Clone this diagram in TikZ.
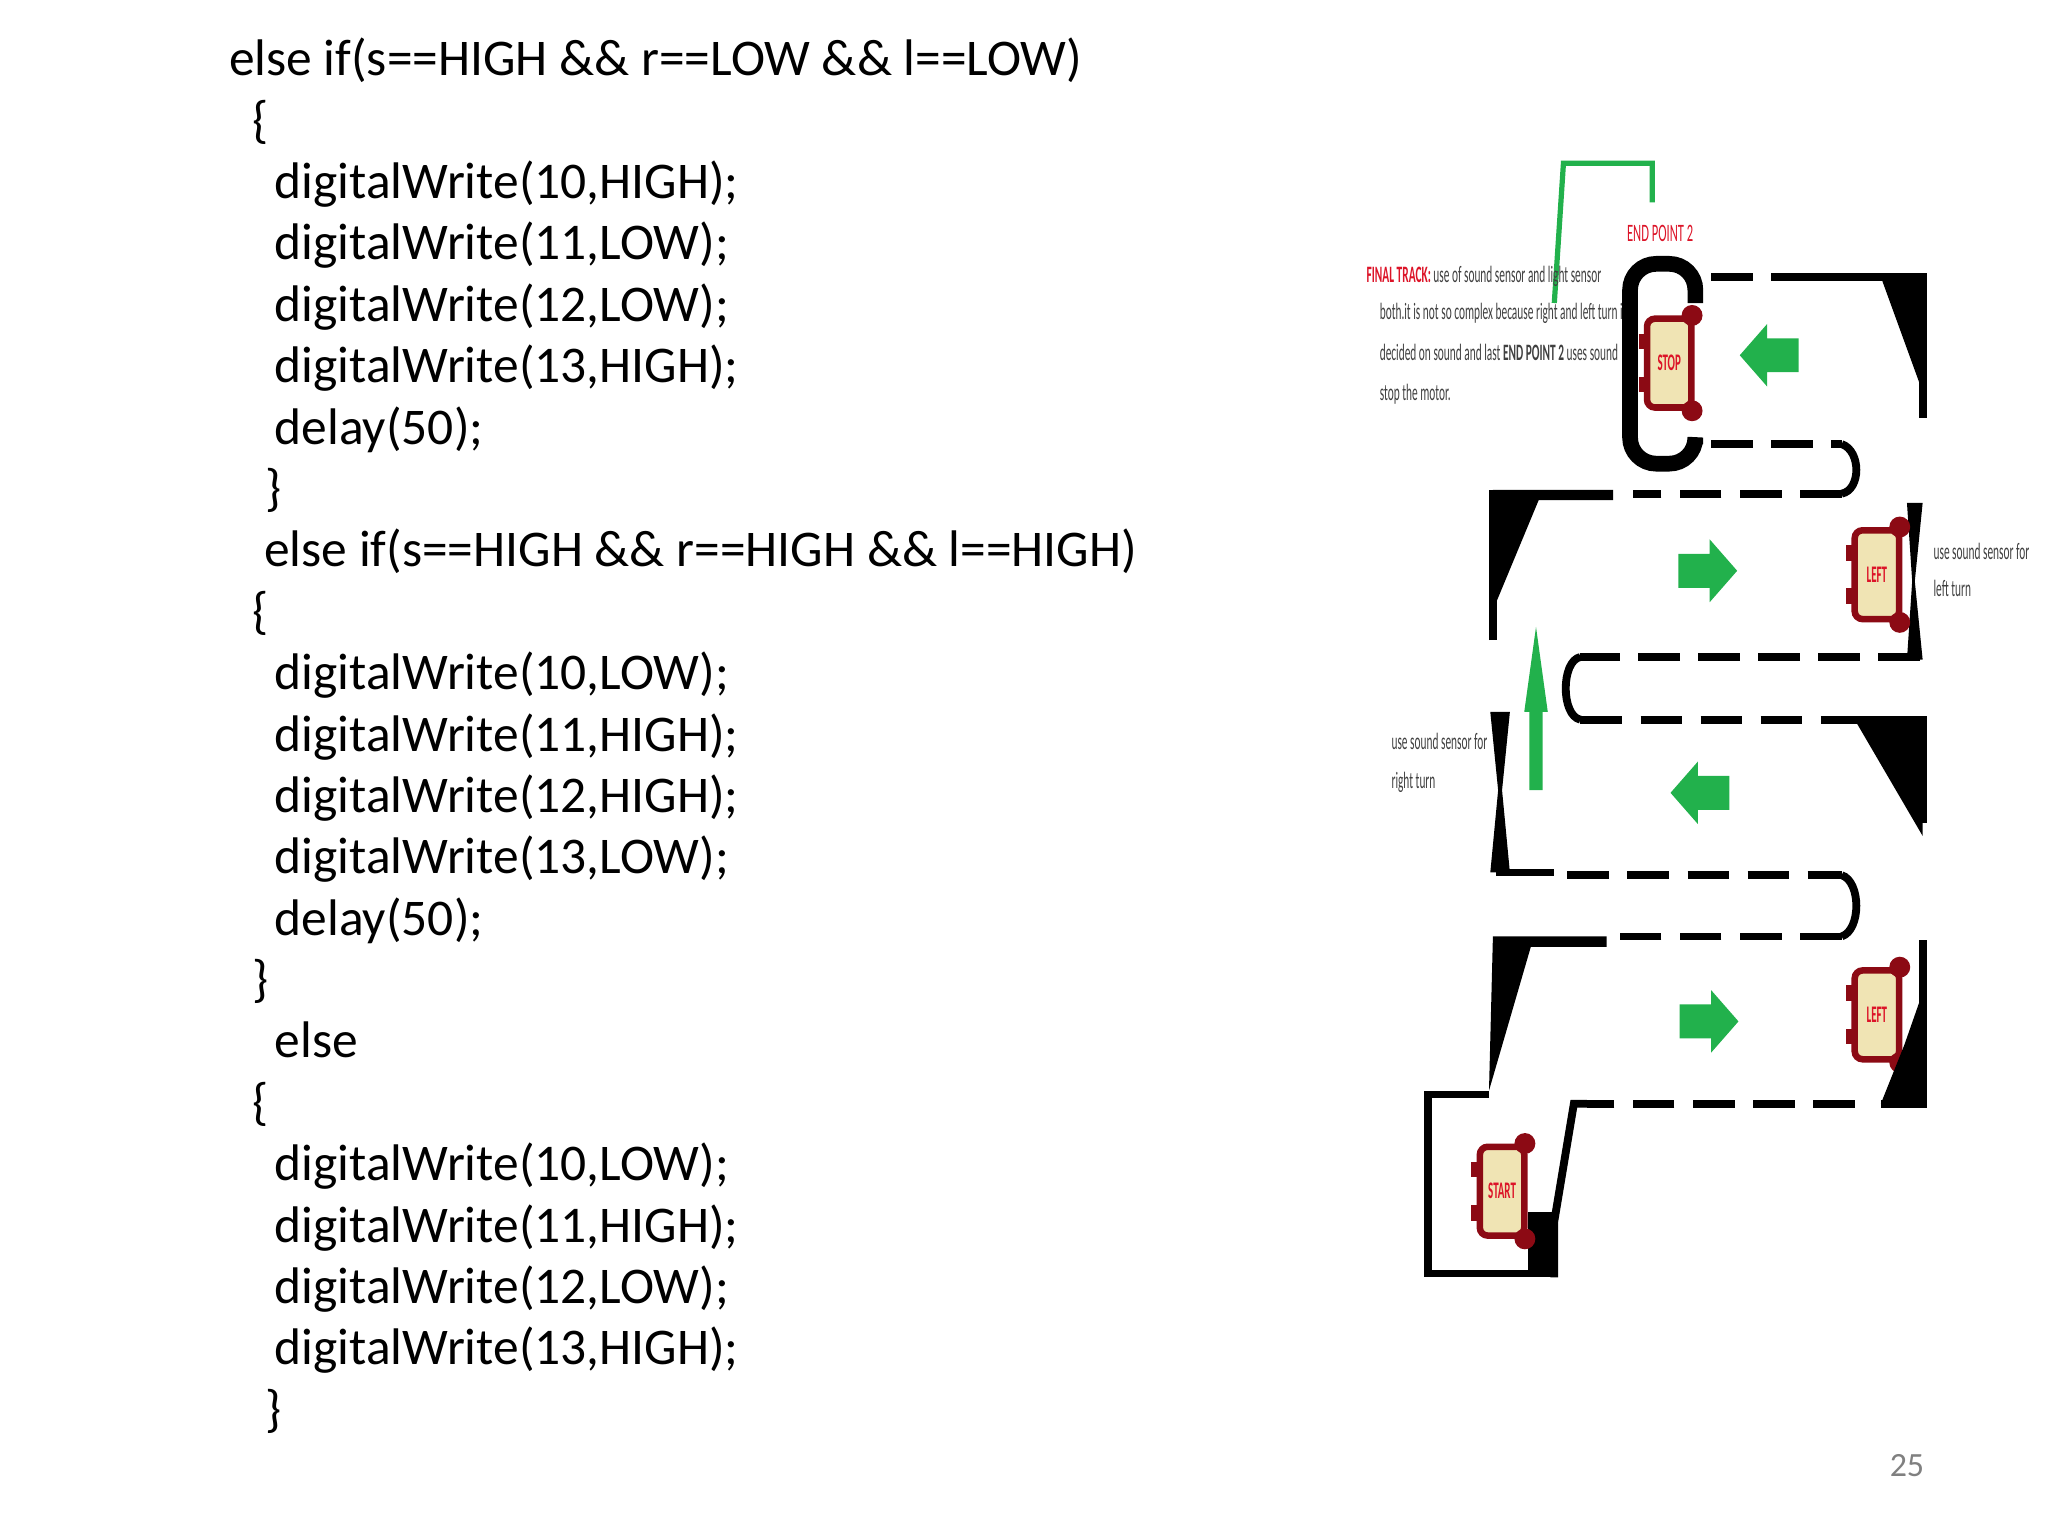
\documentclass[tikz,border=0pt]{standalone}
\usepackage{fontspec}
\setmainfont{Carlito}
\usetikzlibrary{calc}
\definecolor{carred}{RGB}{140,10,20}
\definecolor{cream}{RGB}{240,228,180}
\definecolor{grn}{RGB}{34,177,76}
\definecolor{redtxt}{RGB}{220,20,40}
\tikzset{
 code/.style={anchor=base west,inner sep=0pt,font=\fontsize{19.7}{22}\selectfont},
 tiny/.style={anchor=base west,inner sep=0pt,font=\fontsize{7.5}{8}\selectfont,text=black!75},
 trk/.style={line width=3pt,dash pattern=on 16pt off 7pt},
 wall/.style={line width=3pt},
 blk/.style={fill=black},
 carbody/.style={draw=carred,line width=2.5pt,fill=cream,rounded corners=3pt,minimum width=17pt,minimum height=34pt,inner sep=0pt,text=redtxt,font=\fontsize{7}{7}\selectfont\bfseries},
}
\newcommand\robocar[3]{%
 \node[carbody] (#1) at (#2) {\scalebox{0.6}[1.3]{#3}};
 \fill[carred] ($(#1.north east)+(-1pt,0)$) circle[radius=4pt];
 \fill[carred] ($(#1.south east)+(-1pt,0)$) circle[radius=4pt];
 \fill[carred] ($(#1.north west)+(-2pt,-7pt)$) rectangle ++(4pt,-6pt);
 \fill[carred] ($(#1.south west)+(-2pt,7pt)$) rectangle ++(4pt,6pt);
}
% block arrow: #1 position, #2 xscale (1 right, -1 left)
\newcommand\garr[2]{%
 \fill[grn,shift={(#1)},xscale=#2] (-22,-13) -- (2,-13) -- (2,-24) -- (23,0) -- (2,24) -- (2,13) -- (-22,13) -- cycle;
}
\begin{document}
\begin{tikzpicture}[x=0.5pt,y=-0.5pt]
\useasboundingbox (0,0) rectangle (1568,1176);
% code
\node[code] (l1) at (175,58) {else if(s==HIGH \&\& r==LOW \&\& l==LOW)};
\node[code] (l2) at (193,105) {\{};
\node[code] (l3) at (210,152) {digitalWrite(10,HIGH);};
\node[code] (l4) at (210,199) {digitalWrite(11,LOW);};
\node[code] (l5) at (210,246) {digitalWrite(12,LOW);};
\node[code] (l6) at (210,293) {digitalWrite(13,HIGH);};
\node[code] (l7) at (210,340) {delay(50);};
\node[code] (l8) at (203,387) {\}};
\node[code] (l9) at (202,434) {else if(s==HIGH \&\& r==HIGH \&\& l==HIGH)};
\node[code] (l10) at (193,481) {\{};
\node[code] (l11) at (210,528) {digitalWrite(10,LOW);};
\node[code] (l12) at (210,575) {digitalWrite(11,HIGH);};
\node[code] (l13) at (210,622) {digitalWrite(12,HIGH);};
\node[code] (l14) at (210,669) {digitalWrite(13,LOW);};
\node[code] (l15) at (210,716) {delay(50);};
\node[code] (l16) at (193,763) {\}};
\node[code] (l17) at (210,810) {else};
\node[code] (l18) at (193,857) {\{};
\node[code] (l19) at (210,904) {digitalWrite(10,LOW);};
\node[code] (l20) at (210,951) {digitalWrite(11,HIGH);};
\node[code] (l21) at (210,998) {digitalWrite(12,LOW);};
\node[code] (l22) at (210,1045) {digitalWrite(13,HIGH);};
\node[code] (l23) at (203,1092) {\}};
\node[anchor=center,text=black!50,font=\fontsize{13}{13}\selectfont] (pg) at (1460,1122) {25};
% green pointer line
\draw[grn,line width=2pt] (1190,232) -- (1197,125) -- (1265,125) -- (1265,155);
% texts
\node[anchor=center,text=redtxt,font=\fontsize{8}{8}\selectfont] (ep) at (1271,179) {\scalebox{0.6}[1.2]{END POINT 2}};
\node[tiny,anchor=base west] (t1) at (1046,216) {\scalebox{0.58}[1.2]{\textcolor{redtxt}{\bfseries FINAL TRACK:} use of sound sensor and light sensor}};
\node[tiny] (t2) at (1056,245) {\scalebox{0.58}[1.2]{both.it is not so complex because right and left turn is}};
\node[tiny] (t3) at (1056,276) {\scalebox{0.58}[1.2]{decided on sound and last \textbf{END POINT 2} uses sound}};
\node[tiny] (t4) at (1056,307) {\scalebox{0.58}[1.2]{stop the motor.}};
\node[tiny] (t5) at (1480,428) {\scalebox{0.58}[1.2]{use sound sensor for}};
\node[tiny] (t6) at (1480,457) {\scalebox{0.58}[1.2]{left turn}};
\node[tiny] (t7) at (1065,574) {\scalebox{0.58}[1.2]{use sound sensor for}};
\node[tiny] (t8) at (1065,604) {\scalebox{0.58}[1.2]{right turn}};
% end box
\draw[line width=6pt,rounded corners=10pt] (1298,232) -- (1298,202) -- (1248,202) -- (1248,355) -- (1298,355) -- (1298,340);
% row 1
\draw[trk] (1310,212) -- (1385,212);
\draw[wall] (1385,212) -- (1472,212) -- (1472,320);
\fill[blk] (1440,212) -- (1472,212) -- (1472,300) -- cycle;
\draw[trk] (1310,340) -- (1410,340);
\draw[wall] (1410,340) .. controls (1425,345) and (1425,375) .. (1410,378);
\draw[trk] (1410,378) -- (1250,378);
\draw[wall] (1143,490) -- (1143,378) -- (1235,378);
\fill[blk] (1143,375) -- (1235,375) -- (1235,383) -- (1178,383) -- (1146,460) -- cycle;
% row 2
\fill[blk] (1460,385) -- (1472,385) -- (1466,445) -- (1472,505) -- (1460,505) -- (1464,445) -- cycle;
\draw[trk] (1470,503) -- (1210,503);
\draw[wall] (1210,503) .. controls (1195,506) and (1195,548) .. (1210,551);
\draw[trk] (1210,551) -- (1420,551);
\draw[wall] (1420,551) -- (1472,551) -- (1472,630);
\fill[blk] (1420,551) -- (1472,551) -- (1472,640) -- cycle;
\garr{1307,437}{1}
\robocar{c1}{1437,440}{LEFT}
% up arrow
\fill[grn] (1171,605) -- (1171,545) -- (1167,545) -- (1176,480) -- (1185,545) -- (1181,545) -- (1181,605) -- cycle;
% row 3
\fill[blk] (1141,545) -- (1156,545) -- (1150,605) -- (1156,668) -- (1141,668) -- (1147,605) -- cycle;
\garr{1302,607}{-1}
\draw[wall] (1145,668) -- (1190,668);
\draw[trk] (1200,670) -- (1410,670);
\draw[wall] (1410,670) .. controls (1425,675) and (1425,712) .. (1410,717);
\draw[trk] (1410,717) -- (1230,717);
\fill[blk] (1143,717) -- (1230,717) -- (1230,725) -- (1172,725) -- (1140,835) -- cycle;
% row 4
\garr{1308,782}{1}
\robocar{c2}{1437,777}{LEFT}
\draw[wall] (1472,720) -- (1472,845) -- (1440,845);
\fill[blk] (1440,845) -- (1472,845) -- (1472,760) -- (1458,800) -- cycle;
\draw[trk] (1420,845) -- (1215,845);
\draw[wall] (1215,845) -- (1205,845) -- (1190,935) -- (1190,978);
% start box
\draw[wall] (1140,838) -- (1093,838) -- (1093,975) -- (1190,975);
\fill[blk] (1170,928) rectangle (1190,978);
\robocar{c3}{1150,912}{START}
\robocar{c0}{1278,278}{STOP}
\garr{1355,272}{-1}
\end{tikzpicture}
\end{document}
